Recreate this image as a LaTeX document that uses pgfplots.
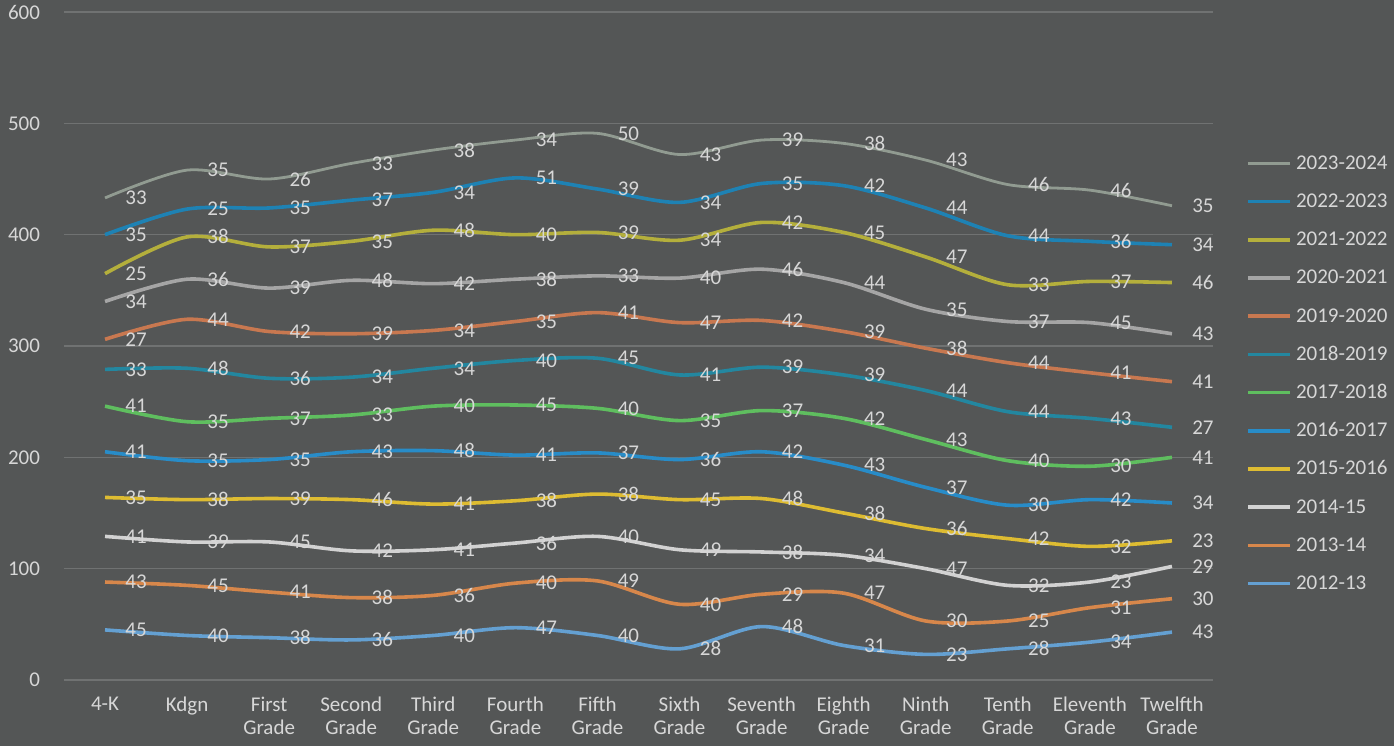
\documentclass[border=0pt]{standalone}
\usepackage{pgfplots}
\pgfplotsset{compat=1.18}
\usepackage{pgfplotstable}
\usepackage{fontspec}
\setmainfont{Carlito}
\definecolor{bg}{RGB}{84,86,86}
\definecolor{txt}{RGB}{215,215,215}
\definecolor{grd}{RGB}{112,114,114}
\definecolor{c1213}{RGB}{100,160,210}
\definecolor{c1314}{RGB}{215,135,75}
\definecolor{c1415}{RGB}{210,210,210}
\definecolor{c1516}{RGB}{222,188,50}
\definecolor{c1617}{RGB}{40,140,200}
\definecolor{c1718}{RGB}{95,190,95}
\definecolor{c1819}{RGB}{35,135,160}
\definecolor{c1920}{RGB}{200,120,80}
\definecolor{c2021}{RGB}{165,165,165}
\definecolor{c2122}{RGB}{180,175,60}
\definecolor{c2223}{RGB}{30,130,180}
\definecolor{c2324}{RGB}{145,155,145}

\pgfplotstableread{
x s1213 s1314 s1415 s1516 s1617 s1718 s1819 s1920 s2021 s2122 s2223 s2324
0  45 43 41 35 41 41 33 27 34 25 35 33
1  40 45 39 38 35 35 48 44 36 38 25 35
2  38 41 45 39 35 37 36 42 39 37 35 26
3  36 38 42 46 43 33 34 39 48 35 37 33
4  40 36 41 41 48 40 34 34 42 48 34 38
5  47 40 36 38 41 45 40 35 38 40 51 34
6  40 49 40 38 37 40 45 41 33 39 39 50
7  28 40 49 45 36 35 41 47 40 34 34 43
8  48 29 38 48 42 37 39 42 46 42 35 39
9  31 47 34 38 43 42 39 39 44 45 42 38
10 23 30 47 36 37 43 44 38 35 47 44 43
11 28 25 32 42 30 40 44 44 37 33 44 46
12 34 31 23 32 42 30 43 41 45 37 36 46
13 43 30 29 23 34 41 27 41 43 46 34 35
}\data

\begin{document}
\begin{tikzpicture}
\fill[bg] (0,0) rectangle (697pt,373pt);
\useasboundingbox (0,0) rectangle (697pt,373pt);
\begin{axis}[
  at={(32pt,33pt)}, anchor=south west,
  scale only axis, width=574.5pt, height=334pt,
  xmin=-0.5, xmax=13.5, ymin=0, ymax=600,
  clip=false,
  stack plots=y,
  point meta=explicit,
  axis line style={draw=none},
  major tick length=0pt,
  ytick={0,100,...,600},
  ymajorgrids,
  grid style={grd, line width=0.6pt},
  xtick={0,...,13},
  xticklabels={4-K, Kdgn, {First\\Grade}, {Second\\Grade}, {Third\\Grade}, {Fourth\\Grade}, {Fifth\\Grade}, {Sixth\\Grade}, {Seventh\\Grade}, {Eighth\\Grade}, {Ninth\\Grade}, {Tenth\\Grade}, {Eleventh\\Grade}, {Twelfth\\Grade}},
  xticklabel style={align=center, anchor=north, yshift=-5pt, font=\fontsize{10.5}{11.5}\selectfont, text=txt},
  yticklabel style={anchor=east, xshift=-8.5pt, font=\fontsize{10.5}{11.5}\selectfont, text=txt},
  /pgf/number format/assume math mode=true,
  every axis plot/.append style={line width=1.8pt, smooth, tension=0.5},
  nodes near coords,
  nodes near coords style={anchor=center, xshift=15.5pt, yshift=0pt, font=\fontsize{10.5}{11.5}\selectfont, text=txt, /pgf/number format/assume math mode=true},
  reverse legend,
  legend image code/.code={\draw[#1] (0pt,0pt) -- (21pt,0pt);},
  legend style={at={(1.0235,0.801)}, anchor=north west, draw=none, fill=none,
    font=\fontsize{10.5}{11.5}\selectfont, text=txt, row sep=5.1pt,
    nodes={inner sep=2pt, text height=8pt, text depth=2pt}},
  legend cell align=left,
]
\addplot[c1213] table[x=x, y=s1213, meta=s1213] {\data};
\addlegendentry{2012-13}
\addplot[c1314] table[x=x, y=s1314, meta=s1314] {\data};
\addlegendentry{2013-14}
\addplot[c1415] table[x=x, y=s1415, meta=s1415] {\data};
\addlegendentry{2014-15}
\addplot[c1516] table[x=x, y=s1516, meta=s1516] {\data};
\addlegendentry{2015-2016}
\addplot[c1617] table[x=x, y=s1617, meta=s1617] {\data};
\addlegendentry{2016-2017}
\addplot[c1718] table[x=x, y=s1718, meta=s1718] {\data};
\addlegendentry{2017-2018}
\addplot[c1819] table[x=x, y=s1819, meta=s1819] {\data};
\addlegendentry{2018-2019}
\addplot[c1920] table[x=x, y=s1920, meta=s1920] {\data};
\addlegendentry{2019-2020}
\addplot[c2021] table[x=x, y=s2021, meta=s2021] {\data};
\addlegendentry{2020-2021}
\addplot[c2122] table[x=x, y=s2122, meta=s2122] {\data};
\addlegendentry{2021-2022}
\addplot[c2223] table[x=x, y=s2223, meta=s2223] {\data};
\addlegendentry{2022-2023}
\addplot[c2324, line width=1.4pt] table[x=x, y=s2324, meta=s2324] {\data};
\addlegendentry{2023-2024}
\end{axis}
\end{tikzpicture}
\end{document}
